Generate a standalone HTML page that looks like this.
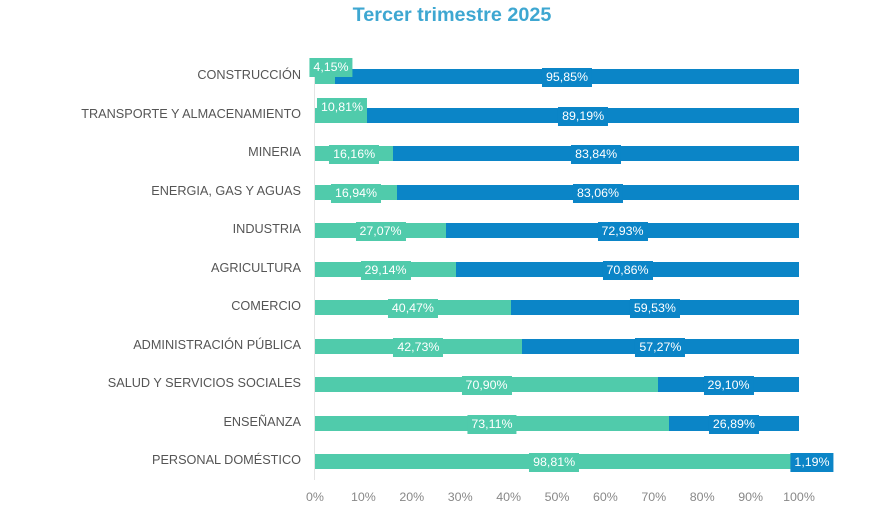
<!DOCTYPE html>
<html><head><meta charset="utf-8"><style>
body{margin:0;width:880px;height:512px;background:#fff;font-family:"Liberation Sans",sans-serif;overflow:hidden;position:relative}
.t{position:absolute;left:0;width:904px;text-align:center;top:4px;font-size:19.8px;font-weight:bold;color:#3ea7d1}
.c{position:absolute;right:579px;font-size:12.7px;color:#555;text-align:right;white-space:nowrap}
.g,.b{position:absolute;height:15px}
.g{background:#50cbab}.b{background:#0b85c7}
.l{position:absolute;height:19px;line-height:19px;font-size:12.4px;color:#fff;padding:0 4px;transform:translateX(-50%)}
.x{position:absolute;top:490px;font-size:12.4px;color:#888;transform:translateX(-50%)}
</style></head><body>
<div class="t">Tercer trimestre 2025</div>
<div style="position:absolute;left:314px;top:60px;width:1px;height:420px;background:#e4e4e4"></div>
<div id="r"></div>
<script>
var d=[["CONSTRUCCIÓN",4.15],["TRANSPORTE Y ALMACENAMIENTO",10.81],["MINERIA",16.16],["ENERGIA, GAS Y AGUAS",16.94],["INDUSTRIA",27.07],["AGRICULTURA",29.14],["COMERCIO",40.47],["ADMINISTRACIÓN PÚBLICA",42.73],["SALUD Y SERVICIOS SOCIALES",70.90],["ENSEÑANZA",73.11],["PERSONAL DOMÉSTICO",98.81]];
var x0=315,w=484,h="";
function f(v){return v.toFixed(2).replace(".",",")+"%"}
d.forEach(function(r,i){var y=76+i*38.5,g=r[1]*w/100,b=100-r[1];
h+='<div class="c" style="top:'+(y-8)+'px">'+r[0]+'</div>';
h+='<div class="g" style="left:'+x0+'px;top:'+(y-7)+'px;width:'+g+'px"></div>';
h+='<div class="b" style="left:'+(x0+g)+'px;top:'+(y-7)+'px;width:'+(w-g)+'px"></div>';
var gx=x0+g/2,gy=y-8;
if(i==0){gx=x0+16;gy=y-18}else if(i==1){gx=x0+27;gy=y-17}
h+='<div class="l" style="background:#50cbab;left:'+gx+'px;top:'+gy+'px">'+f(r[1])+'</div>';
var bx=x0+g+(w-g)/2;if(i==10)bx=x0+w+13;
h+='<div class="l" style="background:#0b85c7;left:'+bx+'px;top:'+(y-8)+'px">'+f(b)+'</div>';
});
for(var k=0;k<=10;k++)h+='<div class="x" style="left:'+(x0+k*w/10)+'px">'+k*10+'%</div>';
document.getElementById("r").innerHTML=h;
</script>
</body></html>
